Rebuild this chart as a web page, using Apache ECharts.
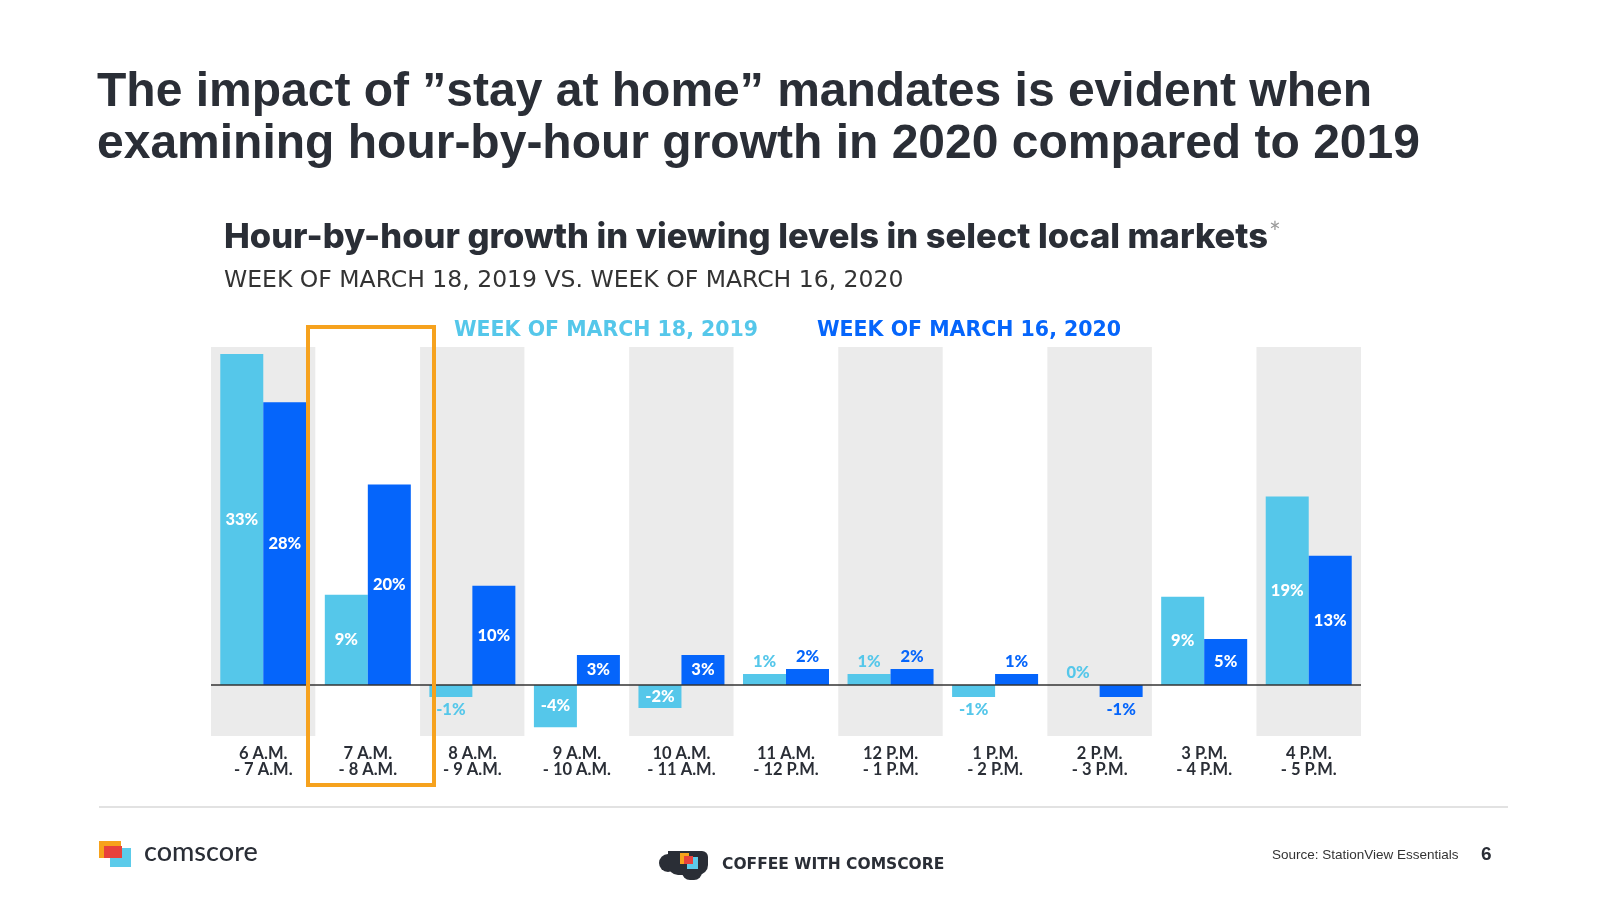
<!DOCTYPE html>
<html>
<head>
<meta charset="utf-8">
<script src="https://cdn.jsdelivr.net/npm/echarts@6/dist/echarts.min.js"></script>
<style>
html,body{margin:0;padding:0;background:#fff;}
#main{width:1601px;height:901px;}
</style>
</head>
<body>
<div id="main"></div>
<script>
// ---- data ----
const categories = ['6 A.M.\n- 7 A.M.', '7 A.M.\n- 8 A.M.', '8 A.M.\n- 9 A.M.', '9 A.M.\n- 10 A.M.', '10 A.M.\n- 11 A.M.', '11 A.M.\n- 12 P.M.', '12 P.M.\n- 1 P.M.', '1 P.M.\n- 2 P.M.', '2 P.M.\n- 3 P.M.', '3 P.M.\n- 4 P.M.', '4 P.M.\n- 5 P.M.'];
const series2019Name = 'WEEK OF MARCH 18, 2019';
const series2020Name = 'WEEK OF MARCH 16, 2020';
const values2019 = [33, 9, -1.2, -4.2, -2.3, 1.1, 1.1, -1.2, 0, 8.8, 18.8];
const values2020 = [28.2, 20, 9.9, 3, 3, 1.6, 1.6, 1.1, -1.2, 4.6, 12.9];
const titleLine1 = 'The impact of \u201dstay at home\u201d mandates is evident when';
const titleLine2 = 'examining hour-by-hour growth in 2020 compared to 2019';
const chartTitle = 'Hour-by-hour growth in viewing levels in select local markets';
const chartSubtitle = 'WEEK OF MARCH 18, 2019 VS. WEEK OF MARCH 16, 2020';
const sourceText = 'Source: StationView Essentials';
const pageNumber = '6';

const LIGHT = '#55c7ea';
const BLUE = '#0565fb';
const DARK = '#2a2e36';

function makeData(vals, color) {
  return vals.map(function (v) {
    if (Math.abs(v) < 2) {
      return { value: v, label: { position: v < 0 ? 'bottom' : 'top', color: color, distance: 4 } };
    }
    return { value: v, label: { position: 'inside', color: '#ffffff' } };
  });
}

const labelCommon = {
  show: true,
  fontFamily: 'Lato',
  fontWeight: 900,
  fontSize: 16.5,
  formatter: function (p) { return Math.round(p.value) + '%'; }
};

const chart = echarts.init(document.getElementById('main'));
chart.setOption({
  animation: false,
  backgroundColor: '#ffffff',
  grid: { left: 211, right: 240, top: 347, bottom: 165, containLabel: false },
  legend: [
    { data: [{ name: series2019Name, textStyle: { color: LIGHT } }], left: 449, top: 320, icon: 'rect', itemWidth: 0, itemHeight: 0, padding: 0, selectedMode: false,
      textStyle: { fontFamily: 'DejaVu Sans', fontWeight: 'bold', fontSize: 20.5 } },
    { data: [{ name: series2020Name, textStyle: { color: BLUE } }], left: 812, top: 320, icon: 'rect', itemWidth: 0, itemHeight: 0, padding: 0, selectedMode: false,
      textStyle: { fontFamily: 'DejaVu Sans', fontWeight: 'bold', fontSize: 20.5 } }
  ],
  xAxis: {
    type: 'category',
    data: categories,
    axisLine: { show: false },
    axisTick: { show: false },
    splitLine: { show: false },
    splitArea: { show: true, areaStyle: { color: ['#ebebeb', '#ffffff'] } },
    axisLabel: {
      interval: 0, margin: 10, color: DARK, fontFamily: 'Lato', fontWeight: 'bold', fontSize: 16.5, lineHeight: 16
    }
  },
  yAxis: {
    type: 'value', min: -5.08, max: 33.7, show: false, splitLine: { show: false }
  },
  series: [
    {
      name: series2019Name, type: 'bar', barWidth: 43, barGap: '0%',
      itemStyle: { color: LIGHT },
      label: labelCommon,
      data: makeData(values2019, LIGHT),
      markLine: {
        silent: true, symbol: ['none', 'none'], label: { show: false },
        lineStyle: { color: '#333333', width: 1.5, type: 'solid' },
        data: [{ yAxis: 0 }]
      }
    },
    {
      name: series2020Name, type: 'bar', barWidth: 43, barGap: '0%',
      itemStyle: { color: BLUE },
      label: labelCommon,
      data: makeData(values2020, BLUE)
    }
  ],
  graphic: [
    { type: 'text', left: 97, top: 69, style: { text: titleLine1, fill: DARK, font: 'bold 48px "Liberation Sans", Arial, sans-serif' } },
    { type: 'text', left: 97, top: 121, style: { text: titleLine2, fill: DARK, font: 'bold 48px "Liberation Sans", Arial, sans-serif' } },
    { type: 'text', left: 224, top: 220, style: {
        text: '{a|' + chartTitle + '}{b|*}',
        rich: {
          a: { fill: DARK, fontFamily: 'Inter', fontWeight: 800, fontSize: 34.5, verticalAlign: 'bottom' },
          b: { fill: '#9a9a9a', fontFamily: 'Lato', fontWeight: 'normal', fontSize: 28, verticalAlign: 'top', padding: [0, 0, 4, 1] }
        }
      } },
    { type: 'text', left: 224, top: 269, style: { text: chartSubtitle, fill: '#333', font: '23.5px "DejaVu Sans", sans-serif' } },
    { type: 'rect', z: 100, shape: { x: 308, y: 327, width: 126, height: 458 }, style: { fill: 'none', stroke: '#f6a21e', lineWidth: 4 } },
    { type: 'line', shape: { x1: 99, y1: 807, x2: 1508, y2: 807 }, style: { stroke: '#e2e2e2', lineWidth: 2 } },
    // comscore logo
    { type: 'rect', shape: { x: 99, y: 841, width: 22, height: 17 }, style: { fill: '#f7a21b' } },
    { type: 'rect', shape: { x: 110, y: 848, width: 21, height: 19 }, style: { fill: '#5ccbea' } },
    { type: 'rect', shape: { x: 104, y: 846, width: 18, height: 12 }, style: { fill: '#e8413c' } },
    { type: 'text', left: 144, top: 839, style: { text: 'comscore', fill: DARK, font: '500 27px Lato, sans-serif' } },
    // coffee with comscore logo
    { type: 'circle', shape: { cx: 668, cy: 863, r: 9 }, style: { fill: DARK } },
    { type: 'rect', shape: { x: 668, y: 851, width: 40, height: 24, r: [0, 6, 10, 10] }, style: { fill: DARK } },
    { type: 'rect', shape: { x: 682, y: 869, width: 20, height: 11, r: [0, 0, 8, 8] }, style: { fill: DARK } },
    { type: 'rect', shape: { x: 680, y: 853, width: 9, height: 11 }, style: { fill: '#f7a21b' } },
    { type: 'rect', shape: { x: 687, y: 857, width: 11, height: 12 }, style: { fill: '#5ccbea' } },
    { type: 'rect', shape: { x: 684, y: 856, width: 9, height: 8 }, style: { fill: '#e8413c' } },
    { type: 'text', left: 722, top: 857, style: { text: 'COFFEE WITH COMSCORE', fill: DARK, font: 'bold 15.5px "DejaVu Sans", sans-serif' } },
    { type: 'text', left: 1272, top: 848, style: { text: sourceText, fill: '#333', font: '13.5px "Liberation Sans", sans-serif' } },
    { type: 'text', left: 1481, top: 845, style: { text: pageNumber, fill: DARK, font: 'bold 19px "Liberation Sans", sans-serif' } }
  ]
});
</script>
</body>
</html>
